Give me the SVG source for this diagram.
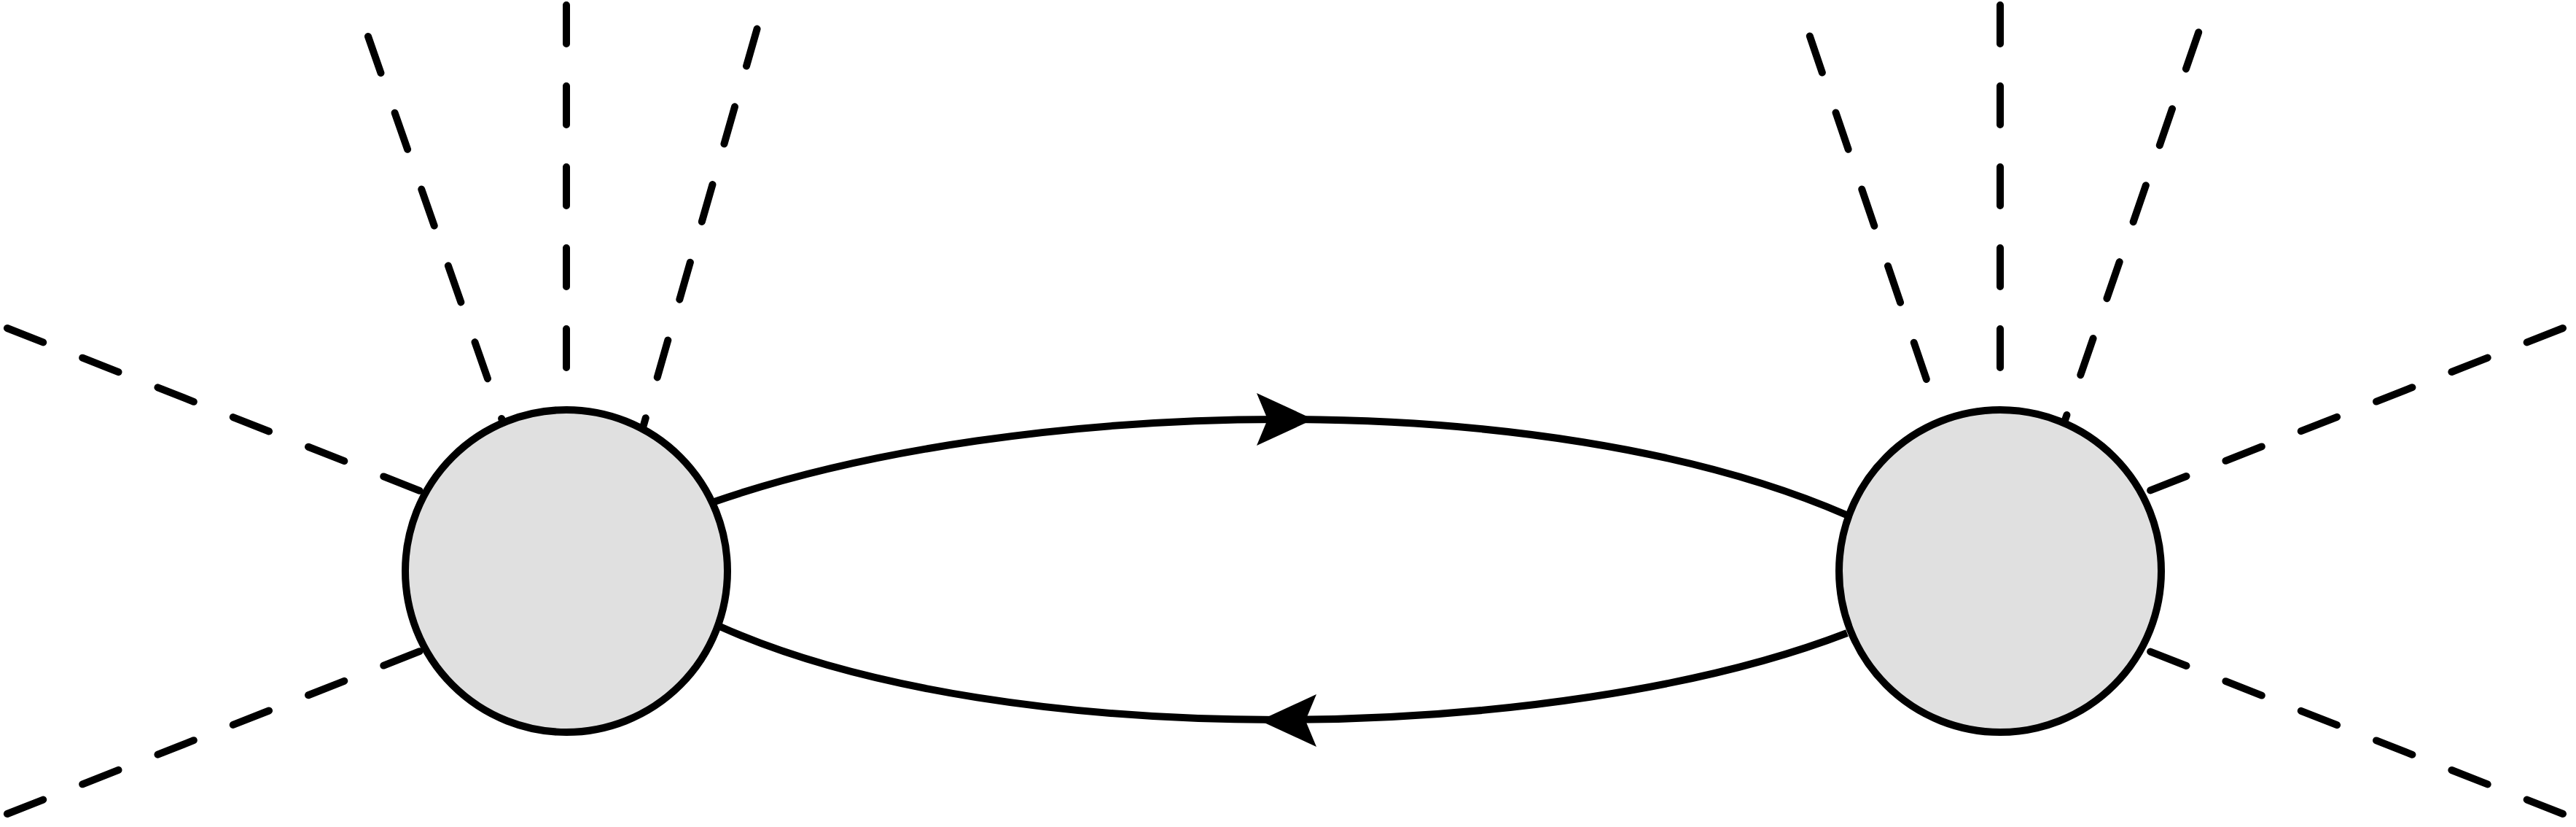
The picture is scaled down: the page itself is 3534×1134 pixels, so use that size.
<svg xmlns="http://www.w3.org/2000/svg" xmlns:xlink="http://www.w3.org/1999/xlink" width="3534" height="1134" viewBox="0 0 3534 1134">
  <style>
    .leg { fill: none; stroke: #000; stroke-width: 10; stroke-linecap: round; stroke-dasharray: 53 58; }
    .prop { fill: none; stroke: #000; stroke-width: 10; }
    .arrowhead { fill: #000; stroke: none; }
    .blob { fill: #e0e0e0; stroke: #000; stroke-width: 10; }
  </style>
  <defs>
    <path id="arr" class="arrowhead" d="M0,0 L-78,-36 L-63,0 L-78,36 Z"/>
  </defs>
  <rect x="0" y="0" width="3534" height="1134" fill="#fff"/>
  <g id="connectors">
    <!-- external legs of left blob -->
    <path class="leg" d="M777,7 L777,545"/>
    <path class="leg" d="M505,50 L716.2,654.2"/>
    <path class="leg" d="M1038.6,39.6 L862.4,654.8"/>
    <path class="leg" d="M9.9,450 L605.4,684.6"/>
    <path class="leg" d="M9.9,1116 L605.4,881.4"/>
    <!-- external legs of right blob -->
    <path class="leg" d="M2744,7 L2744,545"/>
    <path class="leg" d="M2482.8,49.4 L2650.2,541.7"/>
    <path class="leg" d="M3016.2,44.3 L2807.7,649.4"/>
    <path class="leg" d="M3516,450 L2920.4,684.1"/>
    <path class="leg" d="M3516,1116 L2920.4,881.9"/>
    <!-- internal propagators -->
    <path class="prop" d="M980,688 C1396.6,543.9 2116.4,524.8 2533,706"/>
    <path class="prop" d="M987.5,859 C1382.5,1035.6 2139,1020.5 2534,868"/>
    <use xlink:href="#arr" href="#arr" transform="translate(1802,575)"/>
    <use xlink:href="#arr" href="#arr" transform="translate(1728,988) rotate(180)"/>
  </g>
  <g id="blob-left">
    <circle class="blob" cx="777" cy="783" r="221"/>
  </g>
  <g id="blob-right">
    <circle class="blob" cx="2744" cy="783" r="221"/>
  </g>
</svg>
